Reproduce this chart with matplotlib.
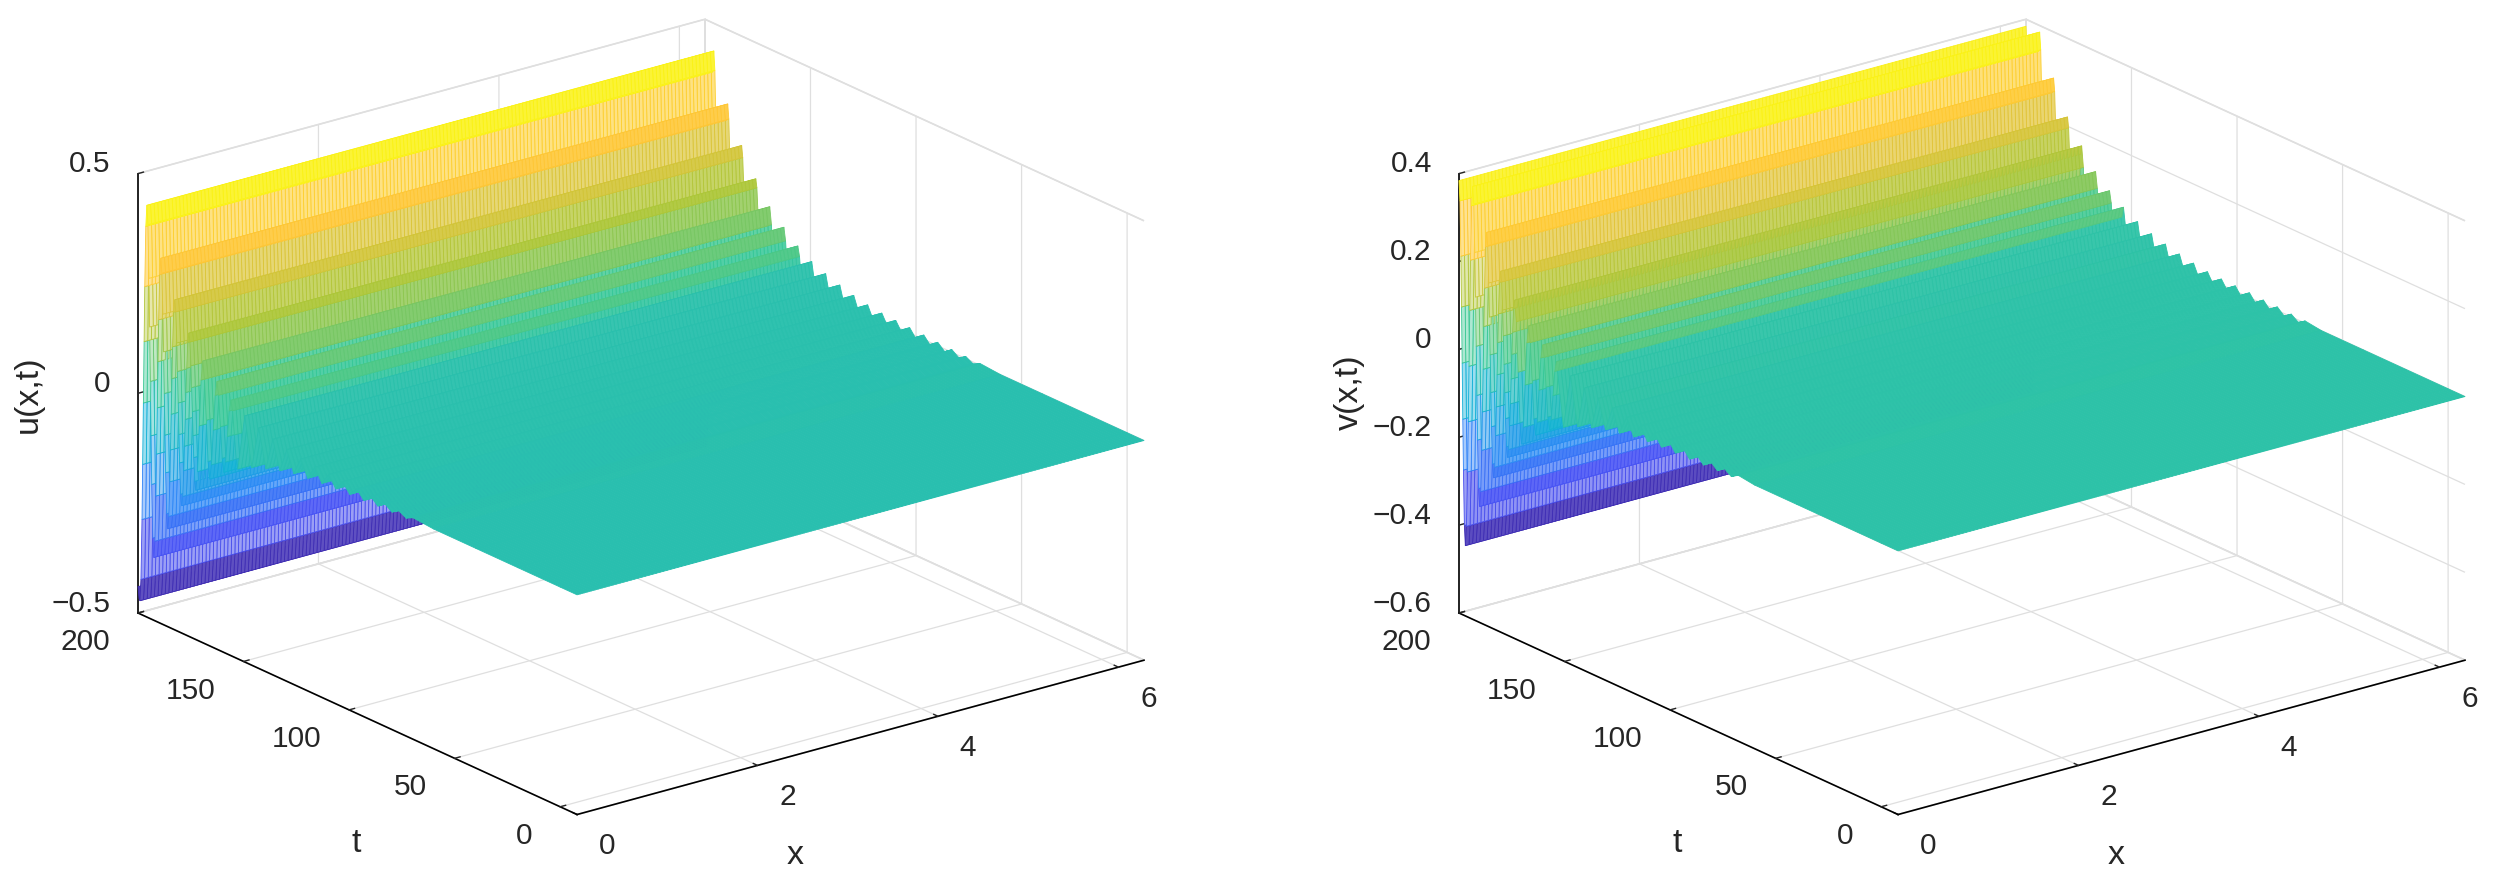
import numpy as np
import matplotlib
matplotlib.use("Agg")
import matplotlib.pyplot as plt
from matplotlib.colors import LinearSegmentedColormap, Normalize
from mpl_toolkits.mplot3d import proj3d
from mpl_toolkits.mplot3d.art3d import Poly3DCollection

plt.rcParams['font.family'] = ['Liberation Sans', 'DejaVu Sans']

# Profile of u along t (surface is uniform along x); estimated from the ridges in the picture
t_u = [200, 199.5, 199.1, 198.6, 198.1, 197.8, 197.45, 197.1, 196.8, 196.3,
       195.8, 195.3, 194.8, 194.5, 194.15, 193.8, 193.5, 193.0,
       192.5, 192, 191.5, 191.2, 190.85, 190.5, 190.2, 189.7,
       189.2, 188.7, 188.2, 187.9, 187.55, 187.2, 186.9, 186.4,
       185.9, 185.4, 184.9, 184.6, 184.25, 183.9, 183.6, 183.1,
       182.6, 182.1, 181.6, 181.3, 180.95, 180.6, 180.3, 179.8,
       179.3, 178.8, 178.3, 178, 177.6, 177.3, 176.9, 176.4,
       175.9, 175.4, 174.9, 174.6, 174.25, 173.9, 173.6, 173.1,
       172.6, 171.8, 170.95, 170.1, 169.3, 168.5, 167.65, 166.8,
       166, 165.2, 164.3, 163.4, 162.6, 161.8, 160.95, 160.1,
       159.3, 158.5, 157.65, 156.8, 156, 155.2, 154.35, 153.5,
       152.7, 149.4, 146.1, 142.8, 139.4, 136.1, 132.8, 129.5, 126.2, 122.9,
       119.6, 116.2, 112.9, 109.6, 106.3, 103, 99.7, 96.3, 93, 89.7,
       86.4, 83, 79.7, 76.4, 73, 69.7, 60, 40, 20, 0, -8]
u_vals = [-.44, -.465, -.47, -.4205, -.283, -.157, -.0165, .124, .25, .388,
          .437, .394, .273, .163, .04, -.083, -.193, -.314,
          -.357, -.319, -.215, -.119, -.013, .093, .189, .293,
          .331, .298, .206, .121, .027, -.067, -.152, -.244,
          -.277, -.248, -.168, -.095, -.013, .069, .142, .222,
          .251, .225, .155, .091, .02, -.051, -.115, -.185,
          -.21, -.188, -.128, -.072, -.01, .052, .108, .168,
          .19, .171, .118, .069, .015, -.039, -.088, -.141,
          -.16, -.116, -.01, .096, .141, .102, .01, -.082,
          -.12, -.086, -.005, .076, .109, .08, .01, -.06,
          -.09, -.065, -.005, .055, .081, .059, .006, -.047,
          -.068, .06, -.05, .047, -.038, .036, -.028, .027, -.02, .02,
          -.016, .016, -.013, .014, -.011, .012, -.009, .01, -.008, .008,
          -.006, .006, -.005, .005, -.004, .004, 0, 0, 0, 0, 0]

# Profile of v along t
t_v = [200, 199.55, 199.1, 198.8, 198.5, 198.2, 197.9, 197.45,
       197, 196.48, 195.95, 195.6, 195.25, 194.9, 194.55, 194.03,
       193.5, 193, 192.5, 192.2, 191.85, 191.5, 191.2, 190.7,
       190.2, 189.7, 189.2, 188.9, 188.55, 188.2, 187.9, 187.4,
       186.9, 186.4, 185.9, 185.6, 185.25, 184.9, 184.6, 184.1,
       183.6, 183.1, 182.6, 182.3, 181.95, 181.6, 181.3, 180.8,
       180.3, 179.8, 179.3, 179, 178.65, 178.3, 178, 177.5,
       177, 176.5, 176, 175.6, 175.3, 174.9, 174.6, 174.1,
       173.6, 172.8, 171.95, 171.1, 170.3, 169.5, 168.65, 167.8,
       167, 166.2, 165.35, 164.5, 163.7, 162.9, 162.05, 161.2,
       160.4, 159.6, 158.75, 157.9, 157.1, 156.3, 155.45, 154.6,
       153.8, 150.5, 147.1, 143.8, 140.5, 137.2, 133.9, 130.6, 127.3, 124,
       120.6, 117.3, 114, 110.7, 107.4, 104.1, 100.8, 97.5, 94.1, 90.8,
       87.5, 84.2, 80.9, 77.6, 74.3, 71, 67.7, 60, 40, 20, 0, -8]
v_vals = [.384, .339, .214, .099, -.028, -.155, -.27, -.395,
          -.44, -.395, -.27, -.155, -.028, .1, .215, .34,
          .385, .346, .237, .136, .025, -.086, -.187, -.296,
          -.336, -.301, -.206, -.118, -.02, .078, .166, .261,
          .295, .266, .182, .105, .02, -.065, -.142, -.226,
          -.256, -.231, -.158, -.092, -.018, .056, .122, .195,
          .221, .198, .135, .077, .013, -.051, -.109, -.172,
          -.195, -.176, -.121, -.07, -.013, .044, .095, .15,
          .17, .123, .01, -.103, -.15, -.11, -.012, .086,
          .126, .09, .005, -.08, -.115, -.084, -.009, .066,
          .097, .071, .005, -.061, -.088, -.064, -.007, .05,
          .074, -.068, .056, -.052, .043, -.04, .034, -.03, .026, -.023,
          .02, -.017, .015, -.013, .013, -.011, .012, -.01, .011, -.009,
          .009, -.008, .008, -.006, .006, -.005, .005, 0, 0, 0, 0, 0]

x_ticks = [0, 2, 4, 6]
t_ticks = [0, 50, 100, 150, 200]
u_ticks = [-0.5, 0, 0.5]
u_labels = ['\u22120.5', '0', '0.5']
v_ticks = [-0.6, -0.4, -0.2, 0, 0.2, 0.4]
v_labels = ['\u22120.6', '\u22120.4', '\u22120.2', '0', '0.2', '0.4']
x_max = 2 * np.pi
t_min = -8
t_max = 200

parula = LinearSegmentedColormap.from_list('parula', [
    (.2422, .1504, .6603), (.2810, .3228, .9579), (.1786, .5289, .9682),
    (.0689, .6948, .8394), (.2161, .7843, .5923), (.6720, .7793, .2227),
    (.9970, .7659, .2199), (.9763, .9831, .0538)])

FW, FH = 2495, 883
fig = plt.figure(figsize=(FW / 100, FH / 100), dpi=100, facecolor='white')
TXT = '#262626'
GRID = '#dfdfdf'
FS = 21.5
FS_LABEL = 24.5


def panel(t_vals, z_vals, zlim, zticks, zlabels, zname, anchor_a, anchor_b, xl, tl, zl):
    ax = fig.add_axes([0, 0, 0.3, 0.3], projection='3d', proj_type='ortho')
    ax.patch.set_visible(False)
    ax.view_init(elev=20.7, azim=-127.6)
    ax.set_box_aspect((716, 720, 470))
    ax.set_xlim(0, x_max)
    ax.set_ylim(t_min, t_max)
    ax.set_zlim(*zlim)

    t_arr = np.asarray(t_vals, float)
    z_arr = np.asarray(z_vals, float)
    xg = np.linspace(0, x_max, 158)
    nrow, ncol = len(t_arr) - 1, len(xg) - 1
    verts = np.zeros((nrow * ncol, 4, 3))
    ii, jj = np.meshgrid(np.arange(nrow), np.arange(ncol), indexing='ij')
    ii, jj = ii.ravel(), jj.ravel()
    for k, (di, dj) in enumerate([(0, 0), (0, 1), (1, 1), (1, 0)]):
        verts[:, k, 0] = xg[jj + dj]
        verts[:, k, 1] = t_arr[ii + di]
        verts[:, k, 2] = z_arr[ii + di]
    norm = Normalize(z_arr.min(), z_arr.max())
    zmid = 0.5 * (z_arr[:-1] + z_arr[1:])
    slope = np.abs(np.diff(z_arr) / np.diff(t_arr))
    edge = parula(norm(zmid))
    white = np.clip(slope / 0.35, 0, 1)[:, None] * 0.58
    face = edge.copy()
    face[:, :3] = edge[:, :3] * (1 - white) + white
    coll = Poly3DCollection(verts, facecolors=face[ii], edgecolors=edge[ii],
                            linewidths=0.6, zsort='average')
    ax.add_collection3d(coll, autolim=False)

    ax.set_xticks(x_ticks)
    ax.set_yticks(t_ticks)
    ax.set_zticks(zticks)
    ax.set_xticklabels([str(v) for v in x_ticks], ha='left', va='center')
    ax.set_yticklabels([str(v) for v in t_ticks], ha='right', va='center')
    ax.set_zticklabels(zlabels, ha='right', va='baseline')
    ax.xaxis.set_tick_params(labelsize=FS, colors=TXT, pad=12)
    ax.yaxis.set_tick_params(labelsize=FS, colors=TXT, pad=12)
    ax.zaxis.set_tick_params(labelsize=FS, colors=TXT, pad=3)
    for axis in (ax.xaxis, ax.yaxis, ax.zaxis):
        axis.set_pane_color((1, 1, 1, 1))
        axis.pane.set_edgecolor(GRID)
        axis.pane.set_linewidth(1.2)
        axis._axinfo['grid'].update(color=GRID, linewidth=0.9)
        axis._axinfo['tick'].update(inward_factor=0.0, outward_factor=0.12, linewidth={True: 1.0, False: 0.5})
        axis._axinfo['axisline']['color'] = (0.15, 0.15, 0.15, 1)
        axis.line.set_linewidth(1.2)
    ax.zaxis.set_ticks_position('upper')
    for (px, py), name, rot in ((xl, 'x', 0), (tl, 't', 0), (zl, zname, 90)):
        ax.text2D(px / FW, 1 - py / FH, name, transform=fig.transFigure, fontsize=FS_LABEL,
                  color=TXT, rotation=rot, ha='center', va='center')

    # place the axes so that two box corners fall where the reference has them
    M = ax.get_proj()
    xs, ys, _ = proj3d.proj_transform(np.array([0.0, x_max]), np.array([t_max, t_min]),
                                      np.array([zlim[0], zlim[0]]), M)
    ax.apply_aspect()
    q = ax.transAxes.inverted().transform(ax.transData.transform(np.c_[xs, ys]))
    pa = np.array([anchor_a[0], FH - anchor_a[1]], float)
    pb = np.array([anchor_b[0], FH - anchor_b[1]], float)
    W = (pb[0] - pa[0]) / (q[1, 0] - q[0, 0])
    ox, oy = pa - W * q[0]
    ax.set_position([ox / FW, oy / FH, W / FW, W / FH])
    return ax


panel(t_u, u_vals, (-0.5, 0.5), u_ticks, u_labels, 'u(x,t)', (138, 613), (1144, 661),
      (795, 855), (356, 843), (28, 394))
panel(t_v, v_vals, (-0.6, 0.4), v_ticks, v_labels, 'v(x,t)', (1459, 613), (2465, 661),
      (2116, 855), (1677, 843), (1349, 392))

fig.savefig('out.png', dpi=100)
